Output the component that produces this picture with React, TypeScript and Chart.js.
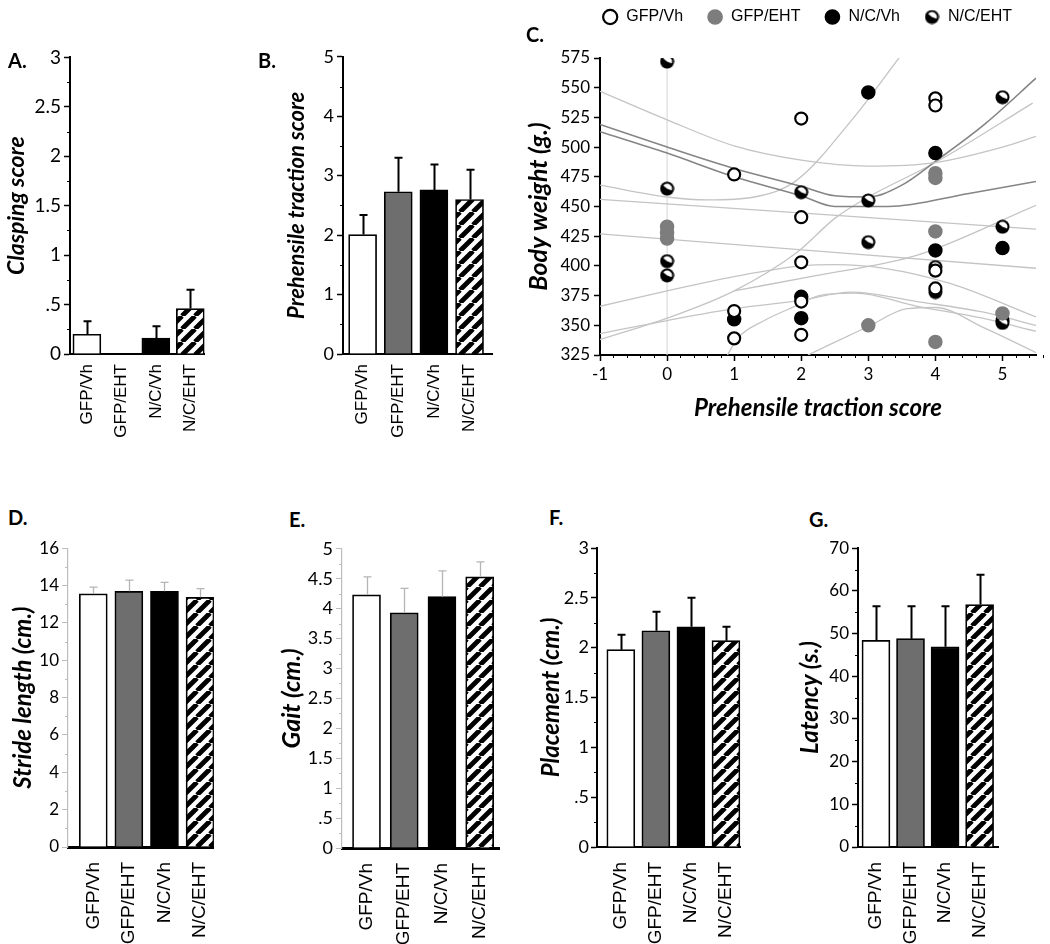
import React, { useEffect, useRef } from 'react';
import { Chart, registerables } from 'chart.js';
Chart.register(...registerables);

// ---------- DATA ----------
const groups = ['GFP/Vh', 'GFP/EHT', 'N/C/Vh', 'N/C/EHT'];

const claspMean = [0.2, 0, 0.16, 0.46];
const claspSem = [0.13, 0, 0.12, 0.19];
const tractionMean = [2.01, 2.73, 2.76, 2.6];
const tractionSem = [0.33, 0.57, 0.43, 0.5];
const strideMean = [13.56, 13.69, 13.69, 13.37];
const strideSem = [0.36, 0.6, 0.48, 0.46];
const gaitMean = [4.23, 3.93, 4.2, 4.53];
const gaitSem = [0.3, 0.41, 0.43, 0.25];
const placementMean = [1.98, 2.17, 2.21, 2.07];
const placementSem = [0.15, 0.19, 0.29, 0.14];
const latencyMean = [48.4, 48.8, 46.9, 56.8];
const latencySem = [8.0, 7.6, 9.5, 7.0];

// scatter (prehensile traction score vs body weight)
const gfpVhScore = [1, 1, 1, 2, 2, 2, 2, 2, 4, 4, 4, 4];
const gfpVhWeight = [477, 362, 339, 524, 441, 403, 370, 342, 541, 535, 396, 381];
const gfpEhtScore = [0, 0, 0, 3, 4, 4, 4, 4, 5];
const gfpEhtWeight = [433, 428, 423, 350, 478, 474, 429, 336, 360];
const ncVhScore = [1, 2, 2, 3, 4, 4, 5];
const ncVhWeight = [355, 374, 356, 546, 495, 413, 415];
const ncEhtScore = [0, 0, 0, 0, 2, 3, 3, 4, 4, 5, 5, 5, 5];
const ncEhtWeight = [572, 465, 404, 392, 462, 455, 420, 399, 378, 542, 433, 354, 352];

// fitted curves / bands: [score, weight]
const bandUpperA = [[-1, 547], [0, 523], [1, 501], [2, 489], [3, 484], [4, 487], [5, 500], [5.5, 509]];
const fitMeanA = [[-1, 519], [0, 500], [1, 482], [2, 467], [2.5, 459], [3, 458], [3.5, 468], [4, 488], [4.75, 520], [5.5, 558]];
const fitMeanB = [[-1, 513], [0, 495], [1, 475], [2, 459], [2.5, 450], [3.3, 450], [4.5, 461], [5.5, 471]];
const bandUpperB = [[-1, 468], [0, 458], [0.6, 455.5], [1.3, 458], [1.93, 472], [2.77, 524], [3.47, 576]];
const bandLinUpper = [[-1, 456], [5.5, 431]];
const bandLinLower = [[-1, 427], [5.5, 398]];
const bandLowerA = [[-1, 366], [0, 379], [1, 391], [2, 400], [2.5, 401], [3.24, 398], [4.23, 385], [5.5, 357]];
const bandLowerB = [[-1, 338], [0, 356], [1, 379], [1.95, 412], [2.5, 440], [3, 458], [4, 487], [5.45, 537]];
const bandLowerC = [[1, 379], [2.24, 392], [3.73, 409], [5.5, 451]];
const bandLowerD = [[-1, 343], [0, 354], [1, 364], [2, 371], [2.74, 378], [3.73, 370], [4.72, 361], [5.5, 350]];
const bandLowerE = [[0.9, 325], [1.05, 339], [1.45, 354], [1.95, 367], [2.27, 375], [2.8, 377], [3.73, 366], [4.7, 356], [5.5, 345]];
const bandLowerF = [[2.1, 325], [3, 349], [3.58, 364], [4, 365], [4.72, 348], [5.5, 327]];
const dropLine = [[0, 572], [0, 325]];

// ---------- HELPERS ----------
const WHITE = '#ffffff';
const GREY = '#6e6e6e';
const BLACK = '#000000';
const PT_GREY = '#7d7d7d';

function fmt(v: number) {
  const r = Math.round(v * 1000) / 1000;
  if (r > 0 && r < 1) return String(r).replace(/^0/, '');
  return String(r);
}

function makeHatch(ctx: CanvasRenderingContext2D) {
  const s = 13;
  const c = document.createElement('canvas');
  c.width = s; c.height = s;
  const g = c.getContext('2d')!;
  g.fillStyle = '#fff';
  g.fillRect(0, 0, s, s);
  g.strokeStyle = '#000';
  g.lineWidth = 4.8;
  g.beginPath();
  for (let k = -1; k <= 1; k++) {
    g.moveTo(k * s, s);
    g.lineTo(k * s + s, 0);
  }
  g.stroke();
  return ctx.createPattern(c, 'repeat')!;
}

function makeHalfMarker() {
  const size = 15;
  const c = document.createElement('canvas');
  c.width = size; c.height = size;
  const g = c.getContext('2d')!;
  const r = size / 2;
  g.beginPath();
  g.arc(r, r, r - 0.5, 0, Math.PI * 2);
  g.fillStyle = '#000';
  g.fill();
  g.beginPath();
  g.moveTo(r, r);
  g.arc(r, r, r - 2.6, -Math.PI * 0.78, Math.PI * 0.12);
  g.closePath();
  g.fillStyle = '#fff';
  g.fill();
  return c;
}

const errorBarPlugin = {
  id: 'errbars',
  afterDatasetsDraw(chart: any, _a: any, opts: any) {
    if (!opts || !opts.sem) return;
    const meta = chart.getDatasetMeta(0);
    const ys = chart.scales.y;
    const ctx = chart.ctx;
    ctx.save();
    ctx.strokeStyle = opts.color;
    ctx.lineWidth = opts.width;
    meta.data.forEach((bar: any, i: number) => {
      const sem = opts.sem[i];
      if (!sem) return;
      const v = chart.data.datasets[0].data[i].y;
      const top = ys.getPixelForValue(v + sem);
      const x = Math.round(bar.x) + 0.5;
      ctx.beginPath();
      ctx.moveTo(x, bar.y);
      ctx.lineTo(x, top);
      ctx.moveTo(x - opts.cap, top);
      ctx.lineTo(x + opts.cap, top);
      ctx.stroke();
    });
    ctx.restore();
  },
};

const minorTicksPlugin = {
  id: 'minorTicks',
  afterDraw(chart: any, _a: any, opts: any) {
    const ctx = chart.ctx;
    const ca = chart.chartArea;
    ctx.save();
    ctx.strokeStyle = opts.color || '#000';
    ctx.lineWidth = opts.width || 1;
    const isMajor = (v: number, m: number) => Math.abs(v / m - Math.round(v / m)) < 1e-6;
    if (opts.yStep) {
      const s = chart.scales.y;
      const n = Math.round((s.max - s.min) / opts.yStep);
      for (let i = 0; i <= n; i++) {
        const v = s.min + i * opts.yStep;
        if (isMajor(v, opts.yMajor)) continue;
        const py = Math.round(s.getPixelForValue(v)) + 0.5;
        ctx.beginPath();
        ctx.moveTo(ca.left - opts.len, py);
        ctx.lineTo(ca.left, py);
        ctx.stroke();
      }
    }
    if (opts.xStep) {
      const s = chart.scales.x;
      const n = Math.round((s.max - s.min) / opts.xStep);
      for (let i = 0; i <= n; i++) {
        const v = s.min + i * opts.xStep;
        if (isMajor(v, opts.xMajor)) continue;
        const px = Math.round(s.getPixelForValue(v)) + 0.5;
        ctx.beginPath();
        ctx.moveTo(px, ca.bottom);
        ctx.lineTo(px, ca.bottom + opts.len);
        ctx.stroke();
      }
    }
    ctx.restore();
  },
};

// ---------- BAR PANEL ----------
type BarCfg = {
  canvasLeft: number; canvasTop: number; canvasBottom: number;
  axisX: number; topY: number; zeroY: number; rightX: number;
  xMin: number; xMax: number; yMax: number; step: number; minor: number;
  title: string; titleSize: number; titleCenterX: number;
  means: number[]; sems: number[]; light: boolean;
  labelSize: number; labelPad: number; tickSize: number; tickPad: number;
};

function BarPanel({ cfg }: { cfg: BarCfg }) {
  const ref = useRef<HTMLCanvasElement>(null);
  const W = cfg.rightX - cfg.canvasLeft + 12;
  const H = cfg.canvasBottom - cfg.canvasTop;
  useEffect(() => {
    const ctx = ref.current!.getContext('2d')!;
    const hatch = makeHatch(ctx);
    const padTop = cfg.topY - cfg.canvasTop;
    const yW = cfg.axisX - cfg.canvasLeft;
    const xH = cfg.canvasBottom - cfg.zeroY;
    const axisColor = cfg.light ? '#bdbdbd' : '#000';
    const titleLH = cfg.titleSize * 1.2;
    const chart = new Chart(ctx, {
      type: 'bar',
      data: {
        datasets: [{
          data: cfg.means.map((v, i) => ({ x: i, y: v })),
          backgroundColor: [WHITE, GREY, BLACK, hatch],
          borderColor: '#000',
          borderWidth: 1.7,
          barThickness: 28,
        }],
      },
      options: {
        responsive: false,
        animation: false,
        events: [],
        layout: { padding: { top: padTop, right: 12, left: 0, bottom: 0 } },
        plugins: {
          legend: { display: false },
          tooltip: { enabled: false },
          errbars: { sem: cfg.sems, color: cfg.light ? '#b5b5b5' : '#000', width: cfg.light ? 1.3 : 2, cap: 4 },
          minorTicks: { yStep: cfg.minor, yMajor: cfg.step, len: 3, color: axisColor, width: 1 },
        } as any,
        scales: {
          x: {
            type: 'linear',
            min: cfg.xMin,
            max: cfg.xMax,
            offset: false,
            afterBuildTicks: (s: any) => { s.ticks = groups.map((_, i) => ({ value: i })); },
            afterFit: (s: any) => { s.height = xH; },
            ticks: {
              autoSkip: false,
              minRotation: 90,
              maxRotation: 90,
              padding: cfg.labelPad,
              color: '#000',
              font: { family: 'Liberation Sans', size: cfg.labelSize },
              callback: (v: any) => groups[v] ?? '',
            },
            grid: { display: true, drawOnChartArea: false, drawTicks: false },
            border: { display: true, color: '#000', width: cfg.light ? 3 : 2 },
          },
          y: {
            min: 0,
            max: cfg.yMax,
            afterFit: (s: any) => { s.width = yW; },
            ticks: {
              stepSize: cfg.step,
              color: '#000',
              padding: cfg.tickPad,
              font: { family: 'Lato', size: cfg.tickSize },
              callback: (v: any) => fmt(Number(v)),
            },
            grid: {
              display: true, drawOnChartArea: false, drawTicks: true, tickLength: 6,
              tickColor: axisColor, tickWidth: cfg.light ? 1 : 1.5, color: axisColor,
            },
            border: { display: true, color: axisColor, width: cfg.light ? 1.2 : 2 },
            title: {
              display: true,
              text: cfg.title,
              color: '#000',
              font: { family: 'Lato', size: cfg.titleSize, weight: 'bold', style: 'italic' },
              padding: { top: cfg.titleCenterX - cfg.canvasLeft - titleLH / 2, bottom: 0 },
            },
          },
        },
      } as any,
      plugins: [errorBarPlugin, minorTicksPlugin],
    });
    return () => chart.destroy();
  }, []);
  return (
    <canvas
      ref={ref}
      width={W}
      height={H}
      style={{ position: 'absolute', left: cfg.canvasLeft, top: cfg.canvasTop, width: W, height: H }}
    />
  );
}

// ---------- SCATTER PANEL ----------
function ScatterPanel() {
  const ref = useRef<HTMLCanvasElement>(null);
  const left = 520, top = -15, W = 530, H = 445;
  useEffect(() => {
    const ctx = ref.current!.getContext('2d')!;
    const half = makeHalfMarker();
    const pts = (xs: number[], ys: number[]) => xs.map((x, i) => ({ x, y: ys[i] }));
    const curve = (arr: number[][], color: string, width: number) => ({
      data: arr.map(([x, y]) => ({ x, y })),
      showLine: true,
      pointRadius: 0,
      borderColor: color,
      borderWidth: width,
      cubicInterpolationMode: 'monotone',
      fill: false,
    });
    const LIGHT = '#c4c4c4';
    const DARK = '#858585';
    const chart = new Chart(ctx, {
      type: 'scatter',
      data: {
        datasets: [
          { label: 'GFP/Vh', data: pts(gfpVhScore, gfpVhWeight), backgroundColor: '#fff', borderColor: '#000', borderWidth: 2.2, pointRadius: 6 },
          { label: 'GFP/EHT', data: pts(gfpEhtScore, gfpEhtWeight), backgroundColor: PT_GREY, borderColor: PT_GREY, borderWidth: 1.5, pointRadius: 6.5 },
          { label: 'N/C/Vh', data: pts(ncVhScore, ncVhWeight), backgroundColor: '#000', borderColor: '#000', borderWidth: 1.5, pointRadius: 6.5 },
          { label: 'N/C/EHT', data: pts(ncEhtScore, ncEhtWeight), backgroundColor: '#000', borderColor: '#000', pointStyle: half, pointRadius: 7 },
          curve(bandUpperA, LIGHT, 1.3),
          curve(fitMeanA, DARK, 1.6),
          curve(fitMeanB, DARK, 1.6),
          curve(bandUpperB, LIGHT, 1.3),
          curve(bandLinUpper, LIGHT, 1.3),
          curve(bandLinLower, LIGHT, 1.3),
          curve(bandLowerA, LIGHT, 1.3),
          curve(bandLowerB, LIGHT, 1.3),
          curve(bandLowerC, LIGHT, 1.3),
          curve(bandLowerD, LIGHT, 1.3),
          curve(bandLowerE, LIGHT, 1.3),
          curve(bandLowerF, LIGHT, 1.3),
          curve(dropLine, '#dadada', 1.2),
        ],
      },
      options: {
        responsive: false,
        animation: false,
        events: [],
        layout: { padding: { top: 0, right: 14, left: 0, bottom: 0 } },
        plugins: {
          tooltip: { enabled: false },
          legend: {
            display: true,
            position: 'top',
            align: 'end',
            labels: {
              usePointStyle: true,
              boxHeight: 10,
              padding: 24,
              color: '#000',
              font: { family: 'Liberation Sans', size: 16 },
              filter: (item: any) => item.datasetIndex < 4,
            },
          },
          minorTicks: { xStep: 0.2, xMajor: 1, len: 3, color: '#000', width: 1 },
        } as any,
        scales: {
          x: {
            type: 'linear',
            min: -1,
            max: 5.5,
            afterBuildTicks: (s: any) => { s.ticks = [-1, 0, 1, 2, 3, 4, 5].map((v) => ({ value: v })); },
            afterFit: (s: any) => { s.height = 75; },
            ticks: { color: '#000', padding: 3, font: { family: 'Lato', size: 17 } },
            grid: { display: true, drawOnChartArea: false, drawTicks: true, tickLength: 6, tickColor: '#000', tickWidth: 1.5 },
            border: { display: true, color: '#000', width: 2 },
            title: {
              display: true,
              text: 'Prehensile traction score',
              color: '#000',
              font: { family: 'Lato', size: 24, weight: 'bold', style: 'italic' },
              padding: { top: 0, bottom: 7 },
            },
          },
          xTop: {
            type: 'linear',
            axis: 'x',
            position: 'top',
            display: true,
            afterFit: (s: any) => { s.height = 23; },
            ticks: { display: false },
            grid: { display: false },
            border: { display: false },
          },
          y: {
            min: 325,
            max: 575,
            afterFit: (s: any) => { s.width = 80; },
            ticks: { stepSize: 25, color: '#000', padding: 4, font: { family: 'Lato', size: 17 } },
            grid: { display: true, drawOnChartArea: false, drawTicks: true, tickLength: 6, tickColor: '#000', tickWidth: 1.5 },
            border: { display: true, color: '#000', width: 2 },
            title: {
              display: true,
              text: 'Body weight (g.)',
              color: '#000',
              font: { family: 'Lato', size: 25, weight: 'bold', style: 'italic' },
              padding: { top: 4, bottom: 0 },
            },
          },
        },
      } as any,
      plugins: [minorTicksPlugin],
    });
    return () => chart.destroy();
  }, []);
  return (
    <canvas
      ref={ref}
      width={W}
      height={H}
      style={{ position: 'absolute', left, top, width: W, height: H }}
    />
  );
}

// ---------- PANEL CONFIGS ----------
const panelA: BarCfg = {
  canvasLeft: 0, canvasTop: 43, canvasBottom: 480, axisX: 70, topY: 55, zeroY: 354, rightX: 210,
  xMin: -0.49, xMax: 3.42, yMax: 3, step: 0.5, minor: 0.25,
  title: 'Clasping score', titleSize: 23, titleCenterX: 17,
  means: claspMean, sems: claspSem, light: false, labelSize: 17, labelPad: 10, tickSize: 19, tickPad: 3,
};
const panelB: BarCfg = {
  canvasLeft: 278, canvasTop: 43, canvasBottom: 480, axisX: 343, topY: 55, zeroY: 354, rightX: 492,
  xMin: -0.55, xMax: 3.63, yMax: 5, step: 1, minor: 0.5,
  title: 'Prehensile traction score', titleSize: 22, titleCenterX: 297,
  means: tractionMean, sems: tractionSem, light: false, labelSize: 17, labelPad: 10, tickSize: 18, tickPad: 3,
};
const panelD: BarCfg = {
  canvasLeft: 2, canvasTop: 535, canvasBottom: 944, axisX: 68, topY: 547, zeroY: 847, rightX: 227,
  xMin: -0.71, xMax: 3.39, yMax: 16, step: 2, minor: 1,
  title: 'Stride length (cm.)', titleSize: 24, titleCenterX: 23,
  means: strideMean, sems: strideSem, light: true, labelSize: 19, labelPad: 15, tickSize: 17, tickPad: 3,
};
const panelE: BarCfg = {
  canvasLeft: 272, canvasTop: 535, canvasBottom: 944, axisX: 342, topY: 547, zeroY: 848, rightX: 507,
  xMin: -0.65, xMax: 3.53, yMax: 5, step: 0.5, minor: 0.25,
  title: 'Gait (cm.)', titleSize: 25, titleCenterX: 292,
  means: gaitMean, sems: gaitSem, light: true, labelSize: 19, labelPad: 15, tickSize: 18, tickPad: 3,
};
const panelF: BarCfg = {
  canvasLeft: 530, canvasTop: 535, canvasBottom: 944, axisX: 597, topY: 548, zeroY: 847, rightX: 753,
  xMin: -0.68, xMax: 3.42, yMax: 3, step: 0.5, minor: 0.25,
  title: 'Placement (cm.)', titleSize: 24, titleCenterX: 551,
  means: placementMean, sems: placementSem, light: false, labelSize: 19, labelPad: 15, tickSize: 18, tickPad: 2,
};
const panelG: BarCfg = {
  canvasLeft: 790, canvasTop: 535, canvasBottom: 944, axisX: 858, topY: 547, zeroY: 847, rightX: 1007,
  xMin: -0.52, xMax: 3.54, yMax: 70, step: 10, minor: 5,
  title: 'Latency (s.)', titleSize: 24, titleCenterX: 810,
  means: latencyMean, sems: latencySem, light: false, labelSize: 19, labelPad: 15, tickSize: 17, tickPad: 3,
};

function Letter({ x, y, text }: { x: number; y: number; text: string }) {
  return (
    <div style={{
      position: 'absolute', left: x, top: y, fontFamily: 'Lato', fontWeight: 700,
      fontSize: 20, lineHeight: '20px', color: '#000',
    }}>{text}</div>
  );
}

export default function App() {
  return (
    <div style={{ position: 'absolute', left: 0, top: 0, width: 1050, height: 944, background: '#fff', overflow: 'hidden' }}>
      <BarPanel cfg={panelA} />
      <BarPanel cfg={panelB} />
      <ScatterPanel />
      <BarPanel cfg={panelD} />
      <BarPanel cfg={panelE} />
      <BarPanel cfg={panelF} />
      <BarPanel cfg={panelG} />
      <Letter x={8} y={50} text="A." />
      <Letter x={258} y={50} text="B." />
      <Letter x={526} y={24} text="C." />
      <Letter x={8} y={507} text="D." />
      <Letter x={289} y={509} text="E." />
      <Letter x={549} y={507} text="F." />
      <Letter x={809} y={509} text="G." />
    </div>
  );
}
